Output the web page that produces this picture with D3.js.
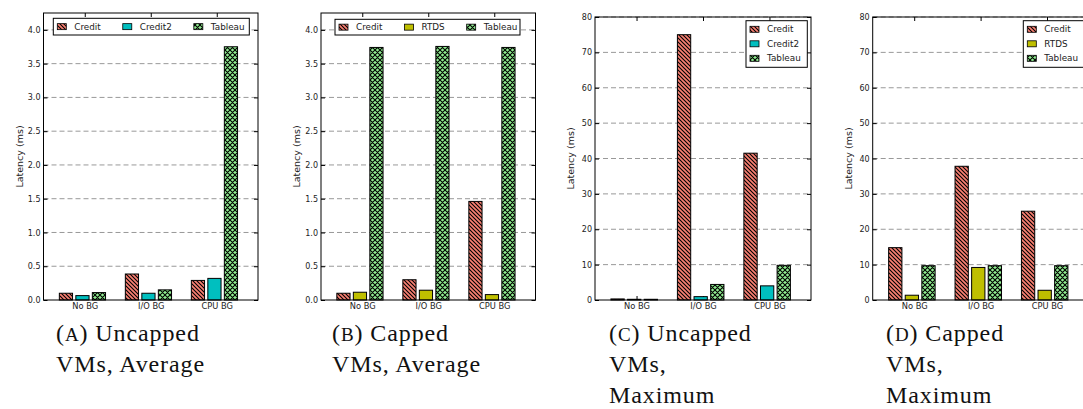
<!DOCTYPE html>
<html>
<head>
<meta charset="utf-8">
<script src="https://cdn.jsdelivr.net/npm/d3@7"></script>
<style>
  body { margin: 0; background: #fff; }
  svg { display: block; }
</style>
</head>
<body>
<svg id="chart" width="1083" height="409"></svg>
<script>
// Datos
const categories = ["No BG", "I/O BG", "CPU BG"];
const uncappedNames = ["Credit", "Credit2", "Tableau"];
const cappedNames = ["Credit", "RTDS", "Tableau"];

const avgUncappedCredit = [0.10, 0.385, 0.29];
const avgUncappedCredit2 = [0.065, 0.10, 0.32];
const avgUncappedTableau = [0.11, 0.15, 3.75];

const avgCappedCredit = [0.10, 0.30, 1.46];
const avgCappedRTDS = [0.115, 0.145, 0.08];
const avgCappedTableau = [3.74, 3.755, 3.74];

const maxUncappedCredit = [0.3, 75.0, 41.5];
const maxUncappedCredit2 = [0.2, 0.95, 4.0];
const maxUncappedTableau = [0.2, 4.4, 9.8];

const maxCappedCredit = [14.8, 37.8, 25.1];
const maxCappedRTDS = [1.35, 9.2, 2.75];
const maxCappedTableau = [9.7, 9.7, 9.7];

const avgTicks = [0, 0.5, 1.0, 1.5, 2.0, 2.5, 3.0, 3.5, 4.0];
const maxTicks = [0, 10, 20, 30, 40, 50, 60, 70, 80];

const captionLetters = ["A", "B", "C", "D"];
const captionLines = [
  ["Uncapped", "VMs, Average"],
  ["Capped", "VMs, Average"],
  ["Uncapped", "VMs,", "Maximum"],
  ["Capped", "VMs,", "Maximum"]
];

// estilos por serie
const styles = {
  Credit: { fill: "#FA8072", hatch: "back" },
  Credit2: { fill: "#00BFBF", hatch: null },
  RTDS: { fill: "#BFBF00", hatch: null },
  Tableau: { fill: "#90EE90", hatch: "cross" }
};

const svg = d3.select("#chart");
const defs = svg.append("defs");

// patrones de rayado
function addPattern(id, color, kind) {
  const size = kind === "back" ? 4 : 5;
  const p = defs.append("pattern")
    .attr("id", id)
    .attr("patternUnits", "userSpaceOnUse")
    .attr("width", size).attr("height", size);
  p.append("rect").attr("width", size).attr("height", size).attr("fill", color);
  let d = `M-1,-1 L${size + 1},${size + 1} M-1,${size - 1} L1,${size + 1} M${size - 1},-1 L${size + 1},1`;
  if (kind === "cross") {
    d += ` M-1,${size + 1} L${size + 1},-1 M-1,1 L1,-1 M${size - 1},${size + 1} L${size + 1},${size - 1}`;
  }
  p.append("path").attr("d", d).attr("stroke", "#000").attr("stroke-width", 1.1);
}
addPattern("hatchCredit", styles.Credit.fill, "back");
addPattern("hatchTableau", styles.Tableau.fill, "cross");

function fillFor(name) {
  if (name === "Credit") return "url(#hatchCredit)";
  if (name === "Tableau") return "url(#hatchTableau)";
  return styles[name].fill;
}

const panels = [
  {
    names: uncappedNames,
    values: [avgUncappedCredit, avgUncappedCredit2, avgUncappedTableau],
    ticks: avgTicks, ymax: 4.25, fmt: d3.format(".1f"),
    box: { left: 43.5, right: 258, top: 13, bottom: 300 },
    legend: { x: 53.3, y: 18.3, w: 196, h: 16.7, orient: "h" },
    cap: 56
  },
  {
    names: cappedNames,
    values: [avgCappedCredit, avgCappedRTDS, avgCappedTableau],
    ticks: avgTicks, ymax: 4.25, fmt: d3.format(".1f"),
    box: { left: 321, right: 535.5, top: 13, bottom: 300 },
    legend: { x: 335, y: 19.3, w: 185, h: 15.7, orient: "h" },
    cap: 332
  },
  {
    names: uncappedNames,
    values: [maxUncappedCredit, maxUncappedCredit2, maxUncappedTableau],
    ticks: maxTicks, ymax: 80, fmt: d3.format("d"),
    box: { left: 595, right: 811, top: 17, bottom: 300 },
    legend: { x: 746, y: 20.7, w: 61.3, h: 46.6, orient: "v" },
    cap: 609
  },
  {
    names: cappedNames,
    values: [maxCappedCredit, maxCappedRTDS, maxCappedTableau],
    ticks: maxTicks, ymax: 80, fmt: d3.format("d"),
    box: { left: 872.7, right: 1088.5, top: 17, bottom: 300 },
    legend: { x: 1023.3, y: 20.7, w: 61.3, h: 46.6, orient: "v" },
    cap: 886
  }
];

const tickFont = "DejaVu Sans";

panels.forEach((p, pi) => {
  const g = svg.append("g");
  const b = p.box;

  const x = d3.scaleLinear().domain([-0.625, 2.625]).range([b.left, b.right]);
  const y = d3.scaleLinear().domain([0, p.ymax]).range([b.bottom, b.top]);

  // lineas de rejilla
  g.selectAll(".grid").data(p.ticks.filter(t => t > 0)).enter()
    .append("line")
    .attr("x1", b.left).attr("x2", b.right)
    .attr("y1", d => y(d)).attr("y2", d => y(d))
    .attr("stroke", "#999").attr("stroke-width", 1)
    .attr("stroke-dasharray", "5,3");

  // eje Y con d3.axisLeft
  const yAxis = g.append("g")
    .attr("transform", `translate(${b.left},0)`)
    .call(d3.axisLeft(y).tickValues(p.ticks).tickFormat(p.fmt).tickSize(-4).tickPadding(3));
  yAxis.select(".domain").remove();
  yAxis.selectAll("line").attr("stroke", "#000");
  yAxis.selectAll("text").attr("font-family", tickFont).attr("font-size", 8).attr("fill", "#222");

  // ticks del lado derecho
  const yRight = g.append("g")
    .attr("transform", `translate(${b.right},0)`)
    .call(d3.axisRight(y).tickValues(p.ticks).tickFormat("").tickSize(-4));
  yRight.select(".domain").remove();
  yRight.selectAll("line").attr("stroke", "#000");

  // eje X
  const xAxis = g.append("g")
    .attr("transform", `translate(0,${b.bottom})`)
    .call(d3.axisBottom(x).tickValues([0, 1, 2]).tickFormat(i => categories[i]).tickSize(-4).tickPadding(3));
  xAxis.select(".domain").remove();
  xAxis.selectAll("line").attr("stroke", "#000");
  xAxis.selectAll("text").attr("font-family", tickFont).attr("font-size", 8.3).attr("fill", "#222");

  const xTop = g.append("g")
    .attr("transform", `translate(0,${b.top})`)
    .call(d3.axisTop(x).tickValues([0, 1, 2]).tickFormat("").tickSize(-4));
  xTop.select(".domain").remove();
  xTop.selectAll("line").attr("stroke", "#000");

  // barras
  const bw = 0.2;
  p.names.forEach((name, k) => {
    g.selectAll(".bar" + k).data(p.values[k]).enter()
      .append("rect")
      .attr("x", (d, i) => x(i + (k - 1) * 0.25 - 0.035 - bw / 2))
      .attr("width", x(bw) - x(0))
      .attr("y", d => y(d))
      .attr("height", d => y(0) - y(d))
      .attr("fill", fillFor(name))
      .attr("stroke", "#000").attr("stroke-width", 1);
  });

  // marco
  g.append("rect")
    .attr("x", b.left).attr("y", b.top)
    .attr("width", b.right - b.left).attr("height", b.bottom - b.top)
    .attr("fill", "none").attr("stroke", "#000").attr("stroke-width", 1);

  // etiqueta Y
  g.append("text")
    .attr("transform", `translate(${b.left - 24},${(b.top + b.bottom) / 2}) rotate(-90)`)
    .attr("text-anchor", "middle").attr("dy", "0.35em")
    .attr("font-family", tickFont).attr("font-size", 9.5).attr("fill", "#222")
    .text("Latency (ms)");

  // leyenda
  const L = p.legend;
  const lg = g.append("g");
  lg.append("rect").attr("x", L.x).attr("y", L.y).attr("width", L.w).attr("height", L.h)
    .attr("fill", "#fff").attr("stroke", "#000").attr("stroke-width", 1);
  let cx = L.x + 4;
  p.names.forEach((name, k) => {
    let sx, sy;
    if (L.orient === "h") {
      sx = cx; sy = L.y + L.h / 2;
    } else {
      sx = L.x + 4; sy = L.y + 8.6 + k * 14.5;
    }
    lg.append("rect").attr("x", sx).attr("y", sy - 3).attr("width", 9).attr("height", 6)
      .attr("fill", fillFor(name)).attr("stroke", "#000").attr("stroke-width", 0.8);
    const t = lg.append("text").attr("x", sx + 17).attr("y", sy).attr("dy", "0.35em")
      .attr("font-family", tickFont).attr("font-size", 8.8).attr("fill", "#222")
      .text(name);
    if (L.orient === "h") cx = sx + 17 + t.node().getComputedTextLength() + 22;
  });

  // titulo (subfigura)
  const cg = svg.append("g");
  captionLines[pi].forEach((line, li) => {
    const t = cg.append("text")
      .attr("x", p.cap).attr("y", 341 + li * 31)
      .attr("font-family", "Liberation Serif").attr("font-size", 24)
      .attr("letter-spacing", 0.9).attr("fill", "#111");
    if (li === 0) {
      t.append("tspan").text("(");
      t.append("tspan").attr("font-size", 19).text(captionLetters[pi]);
      t.append("tspan").text(") " + line);
    } else {
      t.text(line);
    }
  });
});
</script>
</body>
</html>
